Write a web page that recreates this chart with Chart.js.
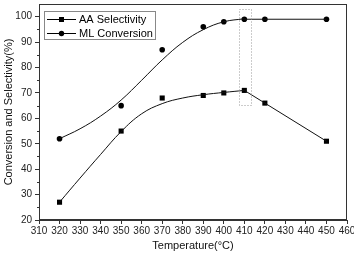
<!DOCTYPE html>
<html>
<head>
<meta charset="utf-8">
<script src="https://cdn.jsdelivr.net/npm/chart.js@4"></script>
<style>
  html, body { margin: 0; padding: 0; background: #fff; }
  #wrap { width: 354px; height: 256px; }
</style>
</head>
<body>
<div id="wrap"><canvas id="chart" width="354" height="256"></canvas></div>
<script>
// measured points
const temps = [320, 350, 370, 390, 400, 410, 420, 450];
const aaSelectivity = [27, 55, 68, 69, 70, 71, 66, 51];
const mlConversion = [52, 65, 87, 96, 98, 99, 99, 99];

// fitted curves (320 -> 410)
const fitTemps = [320, 330, 340, 350, 360, 370, 380, 390, 400, 410];
const aaFit = [27, 36.5, 45.8, 54.8, 61.8, 65.8, 68, 69.3, 70.2, 71];
const mlFit = [52, 55.9, 60.9, 67.2, 75, 83, 89.9, 94.9, 98, 99.2];

const seriesNames = ['AA Selectivity', 'ML Conversion'];
const xTicks = { min: 310, max: 460, step: 10 };
const yTicks = { min: 20, max: 105, step: 5 };

// dotted box around the 410 °C points (data coords)
const markBox = { x0: 407.3, x1: 413.2, y0: 65.3, y1: 103.2 };

const FONT = "'Liberation Sans', Arial, sans-serif";

function pts(xs, ys) {
    return xs.map((x, i) => ({ x: x, y: ys[i] }));
}

// everything after 410 is straight segments through the measured points
const tailStart = temps.indexOf(410);

function drawMarker(ctx, style, x, y) {
    ctx.fillStyle = '#000';
    ctx.beginPath();
    if (style === 'rect') {
        ctx.rect(x - 2.5, y - 2.5, 5, 5);
    } else {
        ctx.arc(x, y, 2.7, 0, Math.PI * 2);
    }
    ctx.fill();
}

const framePlugin = {
    id: 'frame',
    afterDraw(chart) {
        const ctx = chart.ctx;
        const a = chart.chartArea;
        const xs = chart.scales.x, ys = chart.scales.y;
        ctx.save();

        // frame
        ctx.strokeStyle = '#333';
        ctx.lineWidth = 1;
        ctx.strokeRect(Math.round(a.left) + 0.5, Math.round(a.top) + 0.5,
            Math.round(a.right - a.left) - 1, Math.round(a.bottom - a.top) - 1);

        // minor y ticks
        ctx.beginPath();
        for (let v = yTicks.min + 5; v < 100; v += 10) {
            const py = Math.round(ys.getPixelForValue(v)) + 0.5;
            ctx.moveTo(a.left, py);
            ctx.lineTo(a.left - 2, py);
        }
        ctx.stroke();

        // dotted highlight box
        ctx.strokeStyle = '#999';
        ctx.setLineDash([1, 2]);
        const bx0 = xs.getPixelForValue(markBox.x0), bx1 = xs.getPixelForValue(markBox.x1);
        const by0 = ys.getPixelForValue(markBox.y1), by1 = ys.getPixelForValue(markBox.y0);
        ctx.strokeRect(Math.round(bx0) + 0.5, Math.round(by0) + 0.5, Math.round(bx1 - bx0), Math.round(by1 - by0));
        ctx.setLineDash([]);

        // legend
        const lx = 44, ly = 11, lw = 111, lh = 28;
        ctx.fillStyle = '#fff';
        ctx.fillRect(lx, ly, lw, lh);
        ctx.strokeStyle = '#888';
        ctx.strokeRect(lx + 0.5, ly + 0.5, lw, lh);
        const styles = ['rect', 'circle'];
        seriesNames.forEach((name, i) => {
            const ry = 19 + i * 14;
            ctx.strokeStyle = '#000';
            ctx.beginPath();
            ctx.moveTo(47, ry + 0.5);
            ctx.lineTo(76, ry + 0.5);
            ctx.stroke();
            drawMarker(ctx, styles[i], 61.5, ry + 0.5);
            ctx.fillStyle = '#000';
            ctx.font = '11px ' + FONT;
            ctx.textBaseline = 'middle';
            ctx.textAlign = 'left';
            ctx.fillText(name, 79, ry + 1);
        });
        ctx.restore();
    }
};

const lineStyle = {
    showLine: true,
    borderColor: '#111',
    borderWidth: 1,
    pointRadius: 0,
    pointHoverRadius: 0
};

new Chart(document.getElementById('chart'), {
    type: 'scatter',
    data: {
        datasets: [
            Object.assign({ label: 'aa fit', data: pts(fitTemps, aaFit), tension: 0.4 }, lineStyle),
            Object.assign({ label: 'ml fit', data: pts(fitTemps, mlFit), tension: 0.4 }, lineStyle),
            Object.assign({ label: 'aa tail', data: pts(temps.slice(tailStart), aaSelectivity.slice(tailStart)), tension: 0 }, lineStyle),
            Object.assign({ label: 'ml tail', data: pts(temps.slice(tailStart), mlConversion.slice(tailStart)), tension: 0 }, lineStyle),
            {
                label: seriesNames[0],
                data: pts(temps, aaSelectivity),
                showLine: false,
                pointStyle: 'rect',
                pointRadius: 3.6,
                backgroundColor: '#000',
                borderColor: '#000',
                borderWidth: 0
            },
            {
                label: seriesNames[1],
                data: pts(temps, mlConversion),
                showLine: false,
                pointStyle: 'circle',
                pointRadius: 2.8,
                backgroundColor: '#000',
                borderColor: '#000',
                borderWidth: 0
            }
        ]
    },
    options: {
        responsive: false,
        animation: false,
        events: [],
        layout: { padding: { left: 0, right: 7, top: 1, bottom: 0 } },
        plugins: {
            legend: { display: false },
            tooltip: { enabled: false }
        },
        scales: {
            x: {
                type: 'linear',
                min: xTicks.min,
                max: xTicks.max,
                border: { display: true, color: '#333' },
                grid: { drawOnChartArea: false, drawTicks: true, tickLength: 4, tickColor: '#333' },
                ticks: {
                    stepSize: xTicks.step,
                    padding: 1,
                    color: '#222',
                    maxRotation: 0,
                    autoSkip: false,
                    font: { family: FONT, size: 10 }
                },
                title: {
                    display: true,
                    text: 'Temperature(°C)',
                    color: '#111',
                    font: { family: FONT, size: 11 },
                    padding: { top: 0, bottom: 3 }
                },
                afterFit(scale) {
                    scale.height = 36;
                    scale.paddingLeft = 0;
                    scale.paddingRight = 0;
                }
            },
            y: {
                type: 'linear',
                min: yTicks.min,
                max: yTicks.max,
                border: { display: true, color: '#333' },
                grid: {
                    drawOnChartArea: false,
                    drawTicks: true,
                    tickLength: 4,
                    tickColor: c => (c.tick && c.tick.value % 10 === 0 && c.tick.value <= 100) ? '#333' : 'rgba(0,0,0,0)'
                },
                ticks: {
                    stepSize: yTicks.step,
                    padding: 3,
                    color: '#222',
                    autoSkip: false,
                    font: { family: FONT, size: 10 },
                    callback: v => (v % 10 === 0 && v <= 100) ? v : ''
                },
                title: {
                    display: true,
                    text: 'Conversion and Selectivity(%)',
                    color: '#111',
                    font: { family: FONT, size: 11 },
                    padding: { top: 2, bottom: 0 }
                },
                afterFit(scale) {
                    scale.width = 39;
                    scale.paddingTop = 0;
                    scale.paddingBottom = 0;
                }
            }
        }
    },
    plugins: [framePlugin]
});
</script>
</body>
</html>
